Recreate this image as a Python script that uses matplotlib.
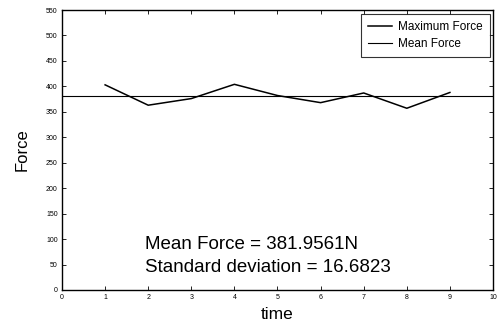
import matplotlib.pyplot as plt
import numpy as np

plt.rcParams['font.family'] = ['Liberation Sans', 'DejaVu Sans']

# values
time = [1, 2, 3, 4, 5, 6, 7, 8, 9]
max_force = [403, 363, 376, 404, 382, 368, 387, 357, 388]
mean_force = 381.9561
std_force = 16.6823
x_ticks = list(range(0, 11))
y_ticks = list(range(0, 551, 50))

fig = plt.figure(figsize=(5.02, 3.31), dpi=100)
ax = fig.add_axes([62 / 502, 41 / 331, 431 / 502, 280 / 331])

ax.plot(time, max_force, color='black', linewidth=1.1, label='Maximum Force')
ax.axhline(mean_force, color='black', linewidth=0.8, label='Mean Force')

ax.set_xlim(0, 10)
ax.set_ylim(0, 550)
ax.set_xticks(x_ticks)
ax.set_yticks(y_ticks)
ax.tick_params(direction='in', top=True, right=True, labelsize=5, length=3, width=0.6, pad=3)
for s in ax.spines.values():
    s.set_linewidth(1.0)

ax.set_xlabel('time', fontsize=12.5)
ax.set_ylabel('Force', fontsize=12)
ax.xaxis.set_label_coords(0.5, -0.062)
ax.yaxis.set_label_coords(-0.075, 0.5)

ax.text(1.93, 80.5, 'Mean Force = %.4fN' % mean_force, fontsize=13.5, va='baseline')
ax.text(1.93, 35.4, 'Standard deviation = %.4f' % std_force, fontsize=13.5, va='baseline')

leg = ax.legend(loc='upper right', bbox_to_anchor=(490 / 502, 1 - 14 / 331),
                bbox_transform=fig.transFigure, borderaxespad=0,
                fontsize=8.5, frameon=True, fancybox=False, edgecolor='black',
                handlelength=2.1, handletextpad=0.5, borderpad=0.6, labelspacing=0.4)
leg.get_frame().set_linewidth(0.8)

fig.savefig('out.png', dpi=100)
